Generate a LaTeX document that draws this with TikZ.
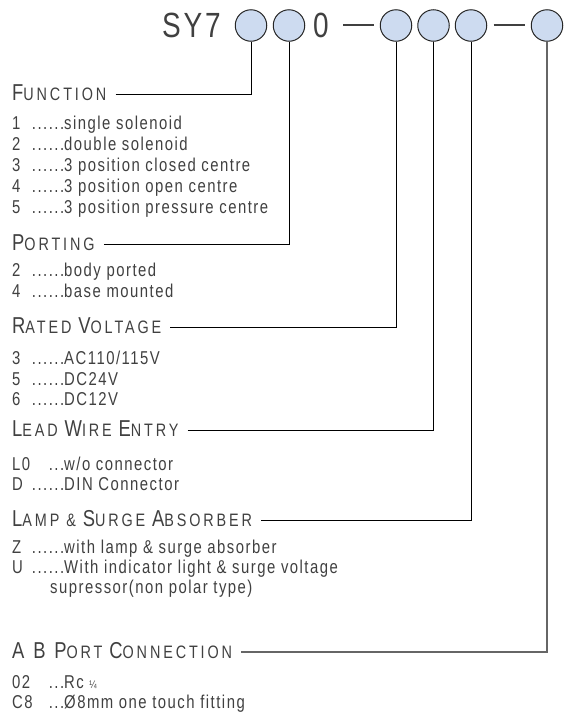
\documentclass[tikz,border=0pt]{standalone}
\usepackage{fontspec}
\setmainfont[FakeStretch=0.8,LetterSpace=8]{Liberation Sans}
\newfontfamily\headfont[FakeStretch=0.8,LetterSpace=16]{Liberation Sans}

\definecolor{bubble}{HTML}{CDDBF0}
\definecolor{ink}{HTML}{404040}

\newcommand{\hcaps}[2]{{\fontsize{23}{23}\selectfont #1}{\fontsize{18}{18}\selectfont #2}}
\newcommand{\entry}[3]{\makebox[20pt][l]{#1}\makebox[32pt][r]{#2}#3}

\tikzset{
    slot/.style={circle, draw=black!85, line width=1pt, fill=bubble, minimum size=31.5pt, inner sep=0pt},
    head/.style={anchor=base west, inner sep=0pt, text=ink, font=\headfont},
    item/.style={anchor=base west, inner sep=0pt, text=ink, font=\fontsize{18.6}{21}\selectfont},
    title/.style={anchor=base west, inner sep=0pt, text=ink, font=\fontsize{35}{35}\selectfont},
    hyphen/.style={anchor=center, inner sep=0pt, text=ink},
    lead/.style={line width=0.9pt}
}

\begin{document}
\begin{tikzpicture}[x=1pt, y=-1pt]
    \useasboundingbox (0,0) rectangle (568,715);

    % part number
    \node[title] (sy) at (162,37) {SY7};
    \node[slot] (c1) at (251,25.5) {};
    \node[slot] (c2) at (289,25.5) {};
    \node[title] (zero) at (313,37) {0};
    \node[hyphen] (d1) at (358.5,25) {\rule{31pt}{2.4pt}};
    \node[slot] (c3) at (396,25.5) {};
    \node[slot] (c4) at (433.5,25.5) {};
    \node[slot] (c5) at (471,25.5) {};
    \node[hyphen] (d2) at (509,25) {\rule{31pt}{2.4pt}};
    \node[slot] (c6) at (547,25.5) {};

    % function
    \node[head] (func) at (12,100) {\hcaps{F}{UNCTION}};
    \node[item] (func1) at (12,129.5) {\entry{1}{......}{single solenoid}};
    \node[item] (func2) at (12,150.5) {\entry{2}{......}{double solenoid}};
    \node[item] (func3) at (12,171.5) {\entry{3}{......}{3 position closed centre}};
    \node[item] (func4) at (12,192.5) {\entry{4}{......}{3 position open centre}};
    \node[item] (func5) at (12,213.5) {\entry{5}{......}{3 position pressure centre}};

    % porting
    \node[head] (port) at (12,250) {\hcaps{P}{ORTING}};
    \node[item] (port2) at (12,276) {\entry{2}{......}{body ported}};
    \node[item] (port4) at (12,297) {\entry{4}{......}{base mounted}};

    % rated voltage
    \node[head] (volt) at (12,333) {\hcaps{R}{ATED }\hcaps{V}{OLTAGE}};
    \node[item] (volt3) at (12,364.5) {\entry{3}{......}{AC110/115V}};
    \node[item] (volt5) at (12,385) {\entry{5}{......}{DC24V}};
    \node[item] (volt6) at (12,405.5) {\entry{6}{......}{DC12V}};

    % lead wire entry
    \node[head] (wire) at (12,436) {\hcaps{L}{EAD }\hcaps{W}{IRE }\hcaps{E}{NTRY}};
    \node[item] (wireL) at (12,470) {\entry{L0}{...}{w/o connector}};
    \node[item] (wireD) at (12,490) {\entry{D}{......}{DIN Connector}};

    % lamp and surge absorber
    \node[head] (lamp) at (12,526) {\hcaps{L}{AMP \& }\hcaps{S}{URGE }\hcaps{A}{BSORBER}};
    \node[item] (lampZ) at (12,553) {\entry{Z}{......}{with lamp \& surge absorber}};
    \node[item] (lampU) at (12,573) {\entry{U}{......}{With indicator light \& surge voltage}};
    \node[item] (lampU2) at (50,593) {supressor(non polar type)};

    % A B port connection
    \node[head] (ab) at (12,658) {\hcaps{A B P}{ORT }\hcaps{C}{ONNECTION}};
    \node[item] (ab02) at (12,688) {\entry{02}{...}{Rc {\fontsize{11}{11}\selectfont ¼}}};
    \node[item] (abC8) at (12,708) {\entry{C8}{...}{Ø8mm one touch fitting}};

    % leaders
    \draw[lead] ([xshift=9pt,yshift=6pt]func.base east) -| (c1.south);
    \draw[lead] ([xshift=9pt,yshift=6pt]port.base east) -| (c2.south);
    \draw[lead] ([xshift=9pt,yshift=6pt]volt.base east) -| (c3.south);
    \draw[lead] ([xshift=9pt,yshift=6pt]wire.base east) -| (c4.south);
    \draw[lead] ([xshift=9pt,yshift=6pt]lamp.base east) -| (c5.south);
    \draw[lead, draw=black!60, line width=1.2pt] ([xshift=9pt,yshift=6pt]ab.base east) -| (c6.south);
\end{tikzpicture}
\end{document}
